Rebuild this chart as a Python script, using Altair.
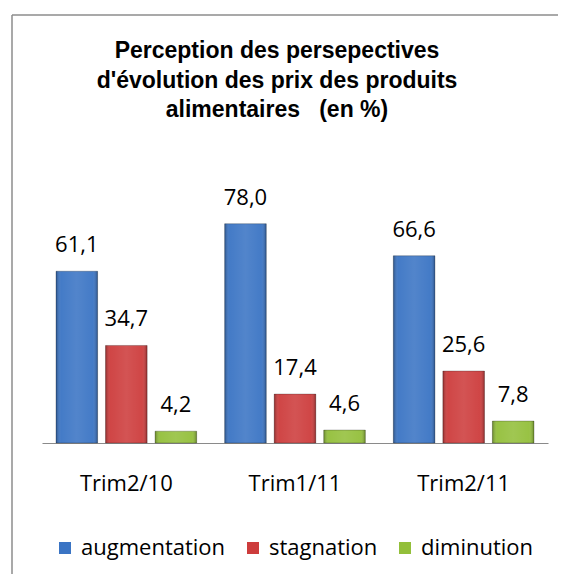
import altair as alt
import pandas as pd

categories = ["Trim2/10", "Trim1/11", "Trim2/11"]
series = ["augmentation", "stagnation", "diminution"]
augmentation = [61.1, 78.0, 66.6]
stagnation = [34.7, 17.4, 25.6]
diminution = [4.2, 4.6, 7.8]
colors = ["#3A74C4", "#CD3C3C", "#93BF3A"]
title_lines = ["Perception des persepectives", "d'évolution des prix des produits",
               "alimentaires\u00a0\u00a0\u00a0(en %)"]

rows = []
for s, vals in zip(series, [augmentation, stagnation, diminution]):
    for c, v in zip(categories, vals):
        rows.append({"cat": c, "serie": s, "val": v,
                     "lab": f"{v:.1f}".replace(".", ",")})
df = pd.DataFrame(rows)

FONT = "Open Sans"

x_enc = alt.X("cat:N", sort=categories, title=None,
              scale=alt.Scale(paddingInner=0.166, paddingOuter=0.083),
              axis=alt.Axis(labelAngle=0, ticks=False, labelFont=FONT, labelFontSize=22,
                            labelColor="#000000", labelBaseline="alphabetic", labelPadding=47,
                            domainColor="#8a8a8a", domainWidth=1.2))
xo_enc = alt.XOffset("serie:N", sort=series, scale=alt.Scale(paddingInner=0.16, paddingOuter=0))
y_enc = alt.Y("val:Q", scale=alt.Scale(domain=[0, 90]), axis=None)

base = alt.Chart(df)

bars = base.mark_bar(stroke="#000000", strokeOpacity=0.25, strokeWidth=1).encode(
    x=x_enc, xOffset=xo_enc, y=y_enc,
    color=alt.Color("serie:N", sort=series,
                    scale=alt.Scale(domain=series, range=colors),
                    legend=alt.Legend(title=None, orient="none", legendX=12, legendY=347,
                                      direction="horizontal", symbolType="square",
                                      symbolSize=144, symbolStrokeWidth=0,
                                      labelFont=FONT, labelFontSize=22, labelColor="#000000",
                                      labelOffset=5, columnPadding=16, padding=0))
)

shade = {
    "gradient": "linear", "x1": 0, "y1": 0, "x2": 1, "y2": 0,
    "stops": [
        {"offset": 0.0, "color": "rgba(0,0,0,0.30)"},
        {"offset": 0.12, "color": "rgba(255,255,255,0.05)"},
        {"offset": 0.5, "color": "rgba(255,255,255,0.12)"},
        {"offset": 0.88, "color": "rgba(255,255,255,0.05)"},
        {"offset": 1.0, "color": "rgba(0,0,0,0.30)"},
    ],
}
overlay = base.mark_bar(fill=shade, stroke=None).encode(
    x=x_enc, xOffset=xo_enc, y=y_enc
)

labels = base.mark_text(font=FONT, fontSize=22, color="#000000", baseline="alphabetic",
                        dy=-19).encode(
    x=x_enc, xOffset=xo_enc, y=y_enc, text="lab:N"
)

deco = pd.DataFrame({"t": ["\n".join(title_lines)]})

title = alt.Chart(deco).mark_text(
    font="Liberation Sans", fontSize=23, fontWeight="bold", color="#000000",
    align="center", baseline="alphabetic", lineBreak="\n", lineHeight=29.5
).encode(text="t:N", x=alt.value(235), y=alt.value(-132))

border_top = alt.Chart(deco).mark_rule(color="#8c8c8c", strokeWidth=1.5).encode(
    x=alt.value(-30), x2=alt.value(530), y=alt.value(-175))
border_left = alt.Chart(deco).mark_rule(color="#8c8c8c", strokeWidth=1.5).encode(
    x=alt.value(-30), y=alt.value(-175), y2=alt.value(400))

chart = alt.layer(border_top, border_left, title, bars, overlay, labels).properties(
    width=506, height=253,
    padding={"left": 34, "top": 182, "right": 10, "bottom": 131},
    autosize=alt.AutoSizeParams(type="none"),
).configure_view(stroke=None)

chart.save("out.html", embed_options={"renderer": "svg", "actions": False})
